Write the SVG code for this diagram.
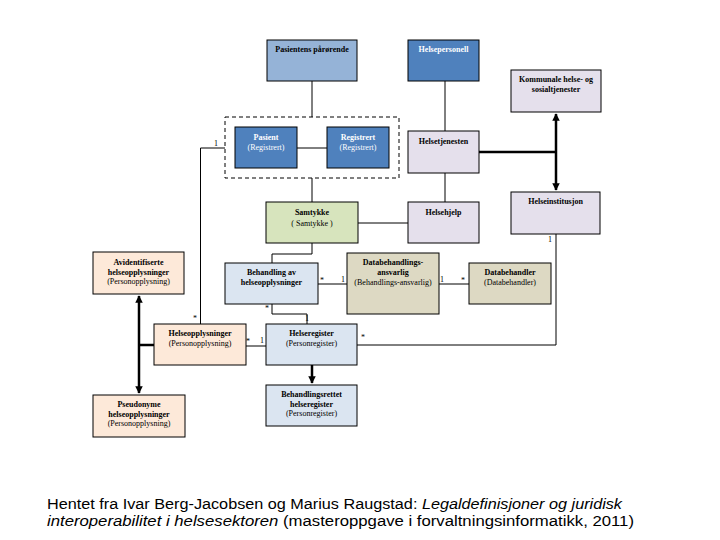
<svg xmlns="http://www.w3.org/2000/svg" width="720" height="540" viewBox="0 0 720 540">
<defs>
<style>
.box{stroke:#000;stroke-width:1}
.blue{fill:#4f81bd}
.lblue{fill:#95b3d7}
.lav{fill:#e5e0ec}
.green{fill:#d7e4bd}
.peach{fill:#fde9d9}
.pale{fill:#dbe5f1}
.tan{fill:#ddd9c3}
.t{font-family:"Liberation Serif","Times New Roman",serif;font-size:8px;text-anchor:middle;fill:#000}
.w{fill:#fff}
.b{font-weight:bold}
.m{font-family:"Liberation Serif","Times New Roman",serif;font-size:8px;fill:#000}
.ln{stroke:#000;stroke-width:1;fill:none}
.thick{stroke:#000;stroke-width:2.5;fill:none}
.cap{font-family:"Liberation Sans",Arial,sans-serif;font-size:14px;fill:#000}
</style>
<marker id="ah" viewBox="0 0 10 10" refX="9" refY="5" markerWidth="3" markerHeight="3" orient="auto-start-reverse">
<path d="M0,0 L10,5 L0,10 Z" fill="#000"/>
</marker>
</defs>
<rect width="720" height="540" fill="#fff"/>

<g id="connectors">
<line class="ln" x1="312" y1="81" x2="312" y2="117"/>
<line class="ln" x1="445" y1="81" x2="445" y2="131"/>
<line class="ln" x1="297" y1="148" x2="327" y2="148"/>
<line class="ln" x1="312" y1="178" x2="312" y2="202"/>
<line class="ln" x1="445" y1="173" x2="445" y2="202"/>
<line class="thick" x1="479" y1="152" x2="556" y2="152"/>
<line class="thick" x1="556" y1="114" x2="556" y2="190" marker-start="url(#ah)" marker-end="url(#ah)"/>
<line class="ln" x1="358" y1="223" x2="408" y2="223"/>
<polyline class="ln" points="312,243 312,254 272,254 272,263"/>
<polyline class="ln" points="225,148 200.5,148 200.5,324"/>
<line class="ln" x1="318" y1="284" x2="347" y2="284"/>
<line class="ln" x1="439" y1="284" x2="469" y2="284"/>
<polyline class="ln" points="556,234 556,345 357,345"/>
<polyline class="ln" points="272,304 272,314 307,314 307,324"/>
<line class="ln" x1="246" y1="346" x2="266" y2="346"/>
<line class="thick" x1="312" y1="365" x2="312" y2="383" marker-end="url(#ah)"/>
<line class="thick" x1="139" y1="296" x2="139" y2="393" marker-start="url(#ah)" marker-end="url(#ah)"/>
<line class="thick" x1="139" y1="345" x2="154" y2="345"/>
<text class="m" x="214" y="146">1</text>
<text class="m" x="193" y="321">*</text>
<text class="m" x="320" y="283">*</text>
<text class="m" x="341" y="282">1</text>
<text class="m" x="440" y="282">1</text>
<text class="m" x="461" y="283">*</text>
<text class="m" x="548" y="242">1</text>
<text class="m" x="361" y="340">*</text>
<text class="m" x="265" y="311">*</text>
<text class="m" x="305" y="321">1</text>
<text class="m" x="246" y="344">*</text>
<text class="m" x="260" y="343">1</text>
</g>

<g id="pasientens-parorende">
<rect class="box lblue" x="267" y="40" width="90" height="41"/>
<text class="t b" x="312" y="52">Pasientens pårørende</text>
</g>
<g id="helsepersonell">
<rect class="box blue" x="408" y="40" width="71" height="41"/>
<text class="t b w" x="443.5" y="52">Helsepersonell</text>
</g>
<g id="kommunale">
<rect class="box lav" x="511" y="70" width="90" height="42"/>
<text class="t b" x="556" y="82">Kommunale helse- og<tspan x="556" dy="10">sosialtjenester</tspan></text>
</g>
<g id="registrert-gruppe">
<rect x="225" y="117" width="174" height="61" fill="none" stroke="#000" stroke-width="1" stroke-dasharray="4,3"/>
</g>
<g id="pasient">
<rect class="box blue" x="235" y="127" width="62" height="41"/>
<text class="t b w" x="266" y="140">Pasient<tspan x="266" dy="10" font-weight="normal">(Registrert)</tspan></text>
</g>
<g id="registrert">
<rect class="box blue" x="327" y="127" width="62" height="41"/>
<text class="t b w" x="358" y="140">Registrert<tspan x="358" dy="10" font-weight="normal">(Registrert)</tspan></text>
</g>
<g id="helsetjenesten">
<rect class="box lav" x="408" y="131" width="71" height="42"/>
<text class="t b" x="443.5" y="144">Helsetjenesten</text>
</g>
<g id="helseinstitusjon">
<rect class="box lav" x="511" y="192" width="89" height="42"/>
<text class="t b" x="555.5" y="204">Helseinstitusjon</text>
</g>
<g id="samtykke">
<rect class="box green" x="266" y="202" width="92" height="41"/>
<text class="t b" x="312" y="215">Samtykke<tspan x="312" dy="10.5" font-weight="normal">( Samtykke )</tspan></text>
</g>
<g id="helsehjelp">
<rect class="box lav" x="408" y="202" width="71" height="41"/>
<text class="t b" x="443.5" y="215">Helsehjelp</text>
</g>
<g id="avidentifiserte">
<rect class="box peach" x="93" y="252" width="91" height="42"/>
<text class="t b" x="138.5" y="265">Avidentifiserte<tspan x="138.5" dy="9.5">helseopplysninger</tspan><tspan x="138.5" dy="9.5" font-weight="normal">(Personopplysning)</tspan></text>
</g>
<g id="behandling">
<rect class="box pale" x="225" y="263" width="93" height="41"/>
<text class="t b" x="271.5" y="275">Behandling av<tspan x="271.5" dy="10">helseopplysninger</tspan></text>
</g>
<g id="databehandlingsansvarlig">
<rect class="box tan" x="347" y="253" width="92" height="61"/>
<text class="t b" x="393" y="265">Databehandlings-<tspan x="393" dy="10">ansvarlig</tspan><tspan x="393" dy="9.5" font-weight="normal">(Behandlings-ansvarlig)</tspan></text>
</g>
<g id="databehandler">
<rect class="box tan" x="469" y="263" width="82" height="41"/>
<text class="t b" x="510" y="275">Databehandler<tspan x="510" dy="10" font-weight="normal">(Databehandler)</tspan></text>
</g>
<g id="helseopplysninger">
<rect class="box peach" x="154" y="324" width="92" height="41"/>
<text class="t b" x="200" y="336">Helseopplysninger<tspan x="200" dy="10" font-weight="normal">(Personopplysning)</tspan></text>
</g>
<g id="helseregister">
<rect class="box pale" x="266" y="324" width="91" height="41"/>
<text class="t b" x="311.5" y="336">Helseregister<tspan x="311.5" dy="10" font-weight="normal">(Personregister)</tspan></text>
</g>
<g id="behandlingsrettet">
<rect class="box pale" x="266" y="385" width="91" height="41"/>
<text class="t b" x="311.5" y="397">Behandlingsrettet<tspan x="311.5" dy="9.5">helseregister</tspan><tspan x="311.5" dy="9.5" font-weight="normal">(Personregister)</tspan></text>
</g>
<g id="pseudonyme">
<rect class="box peach" x="93" y="395" width="92" height="42"/>
<text class="t b" x="139" y="407">Pseudonyme<tspan x="139" dy="9.5">helseopplysninger</tspan><tspan x="139" dy="9.5" font-weight="normal">(Personopplysning)</tspan></text>
</g>

<g id="caption">
<text class="cap" x="47" y="509" textLength="575" lengthAdjust="spacingAndGlyphs">Hentet fra Ivar Berg-Jacobsen og Marius Raugstad: <tspan font-style="italic">Legaldefinisjoner og juridisk</tspan></text>
<text class="cap" x="47" y="526" textLength="587" lengthAdjust="spacingAndGlyphs"><tspan font-style="italic">interoperabilitet i helsesektoren</tspan> (masteroppgave i forvaltningsinformatikk, 2011)</text>
</g>
</svg>
